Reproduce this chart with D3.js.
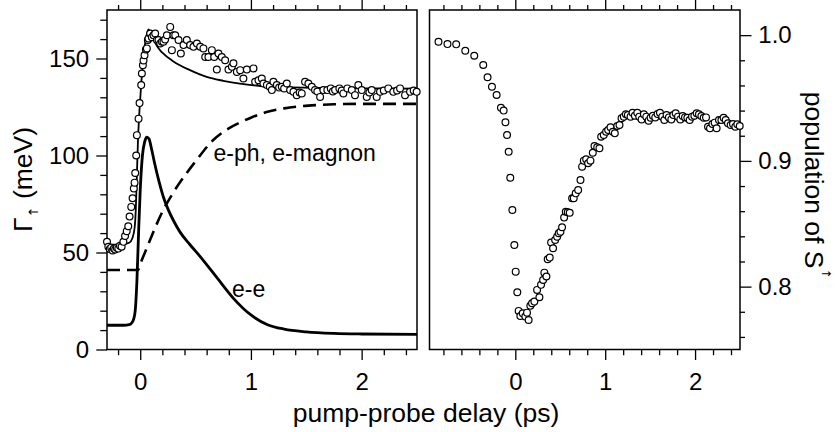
<!DOCTYPE html>
<html><head><meta charset="utf-8">
<script src="https://cdn.jsdelivr.net/npm/d3@7"></script>
<style>
body{margin:0;background:#fff}
svg{display:block}
text{font-family:"Liberation Sans",Arial,Helvetica,sans-serif;fill:#000}
</style>
</head><body>
<svg id="c" width="835" height="432"></svg>
<script>
// ---------- data ----------
// left panel: fitted curves (delay in ps, Gamma in meV)
const totalT = [-0.3,-0.2,-0.15,-0.1,-0.07,-0.05,-0.04,-0.03,-0.02,-0.01,0,0.02,0.04,0.06,0.075,0.09,0.12,0.15,0.2,0.3,0.45,0.6,0.75,0.9,1.05,1.3,1.6,2.0,2.5];
const totalV = [54,54,54.3,55,57.5,63,72,90,108,120,129,145,156,162.5,165,163.5,160,156.5,153,148.5,144,140.5,138.5,137,136,135.2,134.8,134.6,134.5];
const eeT = [-0.3,-0.15,-0.1,-0.08,-0.06,-0.045,-0.03,-0.015,0,0.02,0.04,0.06,0.08,0.1,0.13,0.17,0.21,0.25,0.3,0.36,0.45,0.54,0.7,0.84,1.0,1.15,1.3,1.5,1.75,2.0,2.5];
const eeV = [12.5,12.5,12.8,13.5,15.5,20,35,60,82,100,107,109.5,108.5,104,96,86.5,78.5,72.5,66.5,60.5,54,48,36.5,26.5,17.8,12.8,10.5,9.1,8.3,8,7.8];
const phT = [-0.3,-0.02,0,0.05,0.1,0.2,0.3,0.42,0.5,0.66,0.8,0.9,1.0,1.15,1.3,1.45,1.6,1.75,2.0,2.5];
const phV = [41,41,44,51,58,71,81,91,97,108,114,117,119.5,122.5,124.3,125.4,126,126.4,126.6,126.6];
// left panel: measured points
const leftT = [-0.300,-0.288,-0.275,-0.262,-0.250,-0.238,-0.226,-0.212,-0.198,-0.183,-0.168,-0.152,-0.137,-0.122,-0.108,-0.096,-0.081,-0.069,-0.058,-0.051,-0.045,-0.036,-0.030,-0.015,-0.006,0.009,0.015,0.024,0.030,0.039,0.051,0.060,0.069,0.075,0.090,0.105,0.120,0.135,0.151,0.165,0.181,0.196,0.210,0.225,0.241,0.271,0.286,0.300,0.316,0.346,0.367,0.391,0.421,0.451,0.481,0.512,0.542,0.571,0.587,0.616,0.647,0.668,0.692,0.707,0.737,0.767,0.797,0.828,0.842,0.873,0.903,0.932,0.963,1.023,1.038,1.068,1.098,1.113,1.144,1.170,1.189,1.203,1.234,1.255,1.279,1.300,1.324,1.354,1.384,1.414,1.440,1.459,1.489,1.519,1.550,1.579,1.600,1.625,1.654,1.690,1.721,1.740,1.760,1.799,1.820,1.835,1.871,1.911,1.940,1.970,2.001,2.046,2.070,2.091,2.136,2.166,2.200,2.241,2.286,2.320,2.347,2.392,2.437,2.470,2.497];
const leftV = [55.5,53,51.8,52.5,51,52,51.5,52.5,52,53.5,53,55.5,58.5,61,63.5,68.5,73.5,78,83,86,91,100,110.5,119,127,136.3,142.3,146.5,149,151.7,154.7,155.2,159.5,160.3,162.9,161,162,162.9,159.5,159.5,157.7,158.6,158.6,159.8,162,166.3,154.3,162,162,159.5,152.6,156.9,159.5,156.9,156,157.7,156,155.2,150.8,150.8,154.3,150.8,144.3,152.6,150.8,149.1,144.3,145.7,147.5,143.1,144,139.7,144.3,144.9,138,138.8,139.7,137.1,136.3,135.5,133.7,138,136.3,135,135.4,134.5,137.1,133.7,132.8,131.1,132.5,132,138,137.1,135.4,133.7,133,130.2,133.7,133.7,134.6,133,133.7,134.6,133.5,132,134.6,133.7,131.1,136.3,133.7,130.2,132.5,133.7,130.2,132.8,133.5,134.6,132.8,133.5,134.6,131.1,132.8,133.5,132.8];
// right panel: population of S (measured points)
const rightT = [-0.855,-0.755,-0.658,-0.557,-0.457,-0.357,-0.309,-0.26,-0.208,-0.16,-0.13,-0.11,-0.092,-0.074,-0.056,-0.033,-0.011,0.004,0.022,0.037,0.056,0.082,0.111,0.13,0.148,0.167,0.186,0.212,0.242,0.268,0.286,0.309,0.323,0.346,0.36,0.383,0.398,0.42,0.443,0.465,0.483,0.502,0.52,0.543,0.561,0.583,0.605,0.632,0.65,0.672,0.699,0.725,0.743,0.762,0.788,0.81,0.836,0.862,0.881,0.911,0.936,0.955,0.984,1.01,1.033,1.059,1.085,1.107,1.134,1.159,1.182,1.207,1.23,1.252,1.282,1.304,1.33,1.357,1.379,1.405,1.43,1.457,1.483,1.505,1.531,1.557,1.583,1.609,1.635,1.658,1.683,1.709,1.736,1.758,1.784,1.81,1.836,1.862,1.888,1.914,1.94,1.966,1.992,2.018,2.043,2.07,2.096,2.122,2.144,2.166,2.193,2.218,2.24,2.266,2.293,2.318,2.341,2.366,2.396,2.422,2.448,2.47,2.497];
const rightV = [0.9948,0.9929,0.9927,0.9876,0.9836,0.9762,0.9665,0.959,0.9524,0.9423,0.94,0.9307,0.9206,0.9073,0.8866,0.861,0.8331,0.8119,0.7955,0.7807,0.7767,0.7788,0.7762,0.7793,0.7735,0.7847,0.7868,0.7881,0.7974,0.7916,0.8014,0.8053,0.8111,0.808,0.8218,0.8231,0.835,0.8305,0.8371,0.8397,0.8424,0.8437,0.8472,0.8549,0.8596,0.8591,0.8588,0.8703,0.8703,0.8742,0.8769,0.8848,0.8954,0.9002,0.9013,0.8981,0.9002,0.9065,0.9118,0.9108,0.91,0.9192,0.9206,0.9232,0.9246,0.9267,0.9232,0.9219,0.9277,0.9285,0.9339,0.9352,0.9371,0.9365,0.9352,0.9383,0.9359,0.9383,0.9352,0.933,0.9371,0.9352,0.932,0.9343,0.9359,0.9346,0.9373,0.9383,0.9352,0.9325,0.9365,0.9346,0.933,0.9365,0.9378,0.9352,0.933,0.9357,0.9346,0.9343,0.9325,0.9352,0.9359,0.9378,0.9371,0.9357,0.9343,0.9346,0.9272,0.9259,0.9293,0.9304,0.9259,0.9325,0.9325,0.9343,0.9325,0.9299,0.9285,0.9293,0.9272,0.9291,0.9277];
// ticks
const leftXMajor = [0,1,2];
const leftXMinor = [-0.2,0.2,0.4,0.6,0.8,1.2,1.4,1.6,1.8,2.2,2.4];
const leftYMajor = [0,50,100,150];
const leftYMinor = [10,20,30,40,60,70,80,90,110,120,130,140,160,170];
const rightXMajor = [0,1,2];
const rightXMinor = [-0.8,-0.6,-0.4,-0.2,0.2,0.4,0.6,0.8,1.2,1.4,1.6,1.8,2.2,2.4];
const rightYMajor = [0.8,0.9,1.0];
const rightYMinor = [0.76,0.78,0.82,0.84,0.86,0.88,0.92,0.94,0.96,0.98];

// ---------- drawing ----------
const svg = d3.select("#c");
const yTop = 10, yBot = 349.5;
const xL = d3.scaleLinear().domain([-0.3, 2.5]).range([107, 417]);
const yL = d3.scaleLinear().domain([0, 175]).range([yBot, yTop]);
const xR = d3.scaleLinear().domain([-0.955, 2.5]).range([429.5, 740]);
const yR = d3.scaleLinear().domain([0.75, 1.02]).range([yBot, yTop]);

function axis(fn, scale, vals, size, fmt, pad, tr, fs) {
  const g = svg.append("g").attr("transform", tr)
    .call(fn(scale).tickValues(vals).tickSize(size).tickFormat(fmt).tickPadding(pad));
  g.select(".domain").remove();
  g.selectAll("line").attr("stroke", "#000").attr("stroke-width", 1.3);
  g.selectAll("text").attr("font-family", '"Liberation Sans",Arial,sans-serif')
    .attr("font-size", fs || 24).attr("fill", "#000");
  return g;
}
const none = () => "";
// left panel axes
axis(d3.axisBottom, xL, leftXMinor, 5.7, none, 0, `translate(0,${yBot})`);
axis(d3.axisBottom, xL, leftXMajor, 10.5, d3.format("d"), 13.3, `translate(0,${yBot})`);
axis(d3.axisTop, xL, leftXMinor, 5, none, 0, `translate(0,${yTop})`);
axis(d3.axisTop, xL, leftXMajor, 10, none, 0, `translate(0,${yTop})`);
axis(d3.axisLeft, yL, leftYMinor, 6.7, none, 0, `translate(107,0)`);
axis(d3.axisLeft, yL, leftYMajor, 10.7, d3.format("d"), 7.2, `translate(107,0)`);
// right panel axes
axis(d3.axisBottom, xR, rightXMinor, 5.7, none, 0, `translate(0,${yBot})`);
axis(d3.axisBottom, xR, rightXMajor, 10.5, d3.format("d"), 13.3, `translate(0,${yBot})`);
axis(d3.axisTop, xR, rightXMinor, 5, none, 0, `translate(0,${yTop})`);
axis(d3.axisTop, xR, rightXMajor, 10, none, 0, `translate(0,${yTop})`);
axis(d3.axisRight, yR, rightYMinor, 5, none, 0, `translate(740,0)`);
axis(d3.axisRight, yR, rightYMajor, 11.5, d3.format(".1f"), 6.8, `translate(740,0)`);

// frames
svg.append("rect").attr("x", 107).attr("y", yTop).attr("width", 310).attr("height", yBot - yTop)
  .attr("fill", "none").attr("stroke", "#000").attr("stroke-width", 1.5);
svg.append("rect").attr("x", 429.5).attr("y", yTop).attr("width", 740 - 429.5).attr("height", yBot - yTop)
  .attr("fill", "none").attr("stroke", "#000").attr("stroke-width", 1.5);

// curves
const lineL = d3.line().x(d => xL(d[0])).y(d => yL(d[1])).curve(d3.curveMonotoneX);
svg.append("path").datum(phT.map((t, i) => [t, phV[i]])).attr("d", lineL)
  .attr("fill", "none").attr("stroke", "#000").attr("stroke-width", 2.6).attr("stroke-dasharray", "13,7");
svg.append("path").datum(eeT.map((t, i) => [t, eeV[i]])).attr("d", lineL)
  .attr("fill", "none").attr("stroke", "#000").attr("stroke-width", 2.8);
svg.append("path").datum(totalT.map((t, i) => [t, totalV[i]])).attr("d", lineL)
  .attr("fill", "none").attr("stroke", "#000").attr("stroke-width", 1.8);

// points
svg.append("g").selectAll("circle").data(leftT.map((t, i) => [t, leftV[i]])).join("circle")
  .attr("cx", d => xL(d[0])).attr("cy", d => yL(d[1])).attr("r", 3.4)
  .attr("fill", "#fff").attr("stroke", "#000").attr("stroke-width", 1.2);
svg.append("g").selectAll("circle").data(rightT.map((t, i) => [t, rightV[i]])).join("circle")
  .attr("cx", d => xR(d[0])).attr("cy", d => yR(d[1])).attr("r", 3.4)
  .attr("fill", "#fff").attr("stroke", "#000").attr("stroke-width", 1.2);

// annotations
svg.append("text").attr("x", 213.5).attr("y", 161).attr("font-size", 23).text("e-ph, e-magnon");
svg.append("text").attr("x", 232).attr("y", 297).attr("font-size", 23).text("e-e");

// axis titles
svg.append("text").attr("x", 426).attr("y", 421.5).attr("text-anchor", "middle")
  .attr("font-size", 26.5).text("pump-probe delay (ps)");
const lt = svg.append("text").attr("transform", "translate(32,232) rotate(-90)").attr("font-size", 26.5);
lt.append("tspan").text("Γ");
lt.append("tspan").attr("font-family", '"DejaVu Sans",sans-serif').attr("font-size", 13).attr("dy", 6).text("↑");
lt.append("tspan").attr("dy", -6).text(" (meV)");
const rt = svg.append("text").attr("transform", "translate(805,91.7) rotate(90)").attr("font-size", 26.5);
rt.append("tspan").text("population of S");
rt.append("tspan").attr("font-family", '"DejaVu Sans",sans-serif').attr("font-size", 12).attr("dy", -17).text("↑");
</script>
</body></html>
